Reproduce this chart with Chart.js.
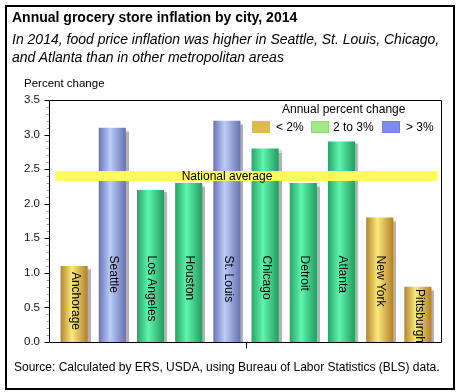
<!DOCTYPE html>
<html>
<head>
<meta charset="utf-8">
<script src="https://cdn.jsdelivr.net/npm/chart.js@4"></script>
<style>
  body { margin: 0; background: #fff; font-family: "Liberation Sans", Arial, sans-serif; }
  #wrap { position: relative; width: 459px; height: 392px; overflow: hidden; }
  #frame { position: absolute; left: 5px; top: 5px; width: 446px; height: 381px; border: 2px solid #000; }
  canvas { position: absolute; left: 0; top: 0; }
  .txt { position: absolute; white-space: nowrap; color: #000; }
  #title { left: 12px; top: 9px; font-size: 14px; font-weight: bold; }
  #subtitle { left: 12px; top: 30px; font-size: 14px; font-style: italic; line-height: 18px; }
  #ylabel { left: 24px; top: 77px; font-size: 11.5px; }
  #source { left: 14px; top: 360px; font-size: 12px; }
  #legTitle { left: 282px; top: 102px; font-size: 12px; }
  .sw { position: absolute; top: 121px; width: 18px; height: 12px; box-sizing: border-box; }
  .lg { position: absolute; top: 120px; font-size: 12px; }
</style>
</head>
<body>
<div id="wrap">
  <div id="frame"></div>
  <canvas id="inflationChart" width="459" height="392"></canvas>
  <div class="txt" id="title">Annual grocery store inflation by city, 2014</div>
  <div class="txt" id="subtitle">In 2014, food price inflation was higher in Seattle, St. Louis, Chicago,<br>and Atlanta than in other metropolitan areas</div>
  <div class="txt" id="ylabel">Percent change</div>
  <div class="txt" id="legTitle">Annual percent change</div>
  <div class="sw" style="left:252px; background:#dfb954;"></div>
  <div class="txt lg" style="left:276px;">&lt; 2%</div>
  <div class="sw" style="left:311px; background:#a3ea87; border:1px solid #8cd676;"></div>
  <div class="txt lg" style="left:333px;">2 to 3%</div>
  <div class="sw" style="left:382px; background:#7f8de8; border:1px solid #6c7ce0;"></div>
  <div class="txt lg" style="left:406px;">&gt; 3%</div>
  <div class="txt" id="source">Source: Calculated by ERS, USDA, using Bureau of Labor Statistics (BLS) data.</div>
</div>

<script>
// Data
const cities = ['Anchorage', 'Seattle', 'Los Angeles', 'Houston', 'St. Louis', 'Chicago', 'Detroit', 'Atlanta', 'New York', 'Pittsburgh'];
const inflation = [1.1, 3.1, 2.2, 2.3, 3.2, 2.8, 2.3, 2.9, 1.8, 0.8];
const nationalAverage = 2.4;
const yTicks = [0, 0.5, 1.0, 1.5, 2.0, 2.5, 3.0, 3.5];

// gradient stops for each color group (left edge, highlight, right edge)
const gold = ['#b6842c', '#f9ea7c', '#b27e2a'];
const green = ['#27a466', '#5ef6ae', '#259a5e'];
const blue = ['#6874b6', '#bccdf8', '#6670b0'];

function groupFor(v) {
    if (v < 2) return gold;
    if (v > 3) return blue;
    return green;
}

function barFill(context) {
    const chart = context.chart;
    const xs = chart.scales.x;
    const c = groupFor(inflation[context.dataIndex] || 0);
    if (!xs || context.dataIndex === undefined) return c[1];
    const cx = xs.getPixelForValue(context.dataIndex);
    const half = (xs.width / cities.length) * 0.71 / 2;
    if (!isFinite(cx) || !isFinite(half) || half <= 0) return c[1];
    const g = chart.ctx.createLinearGradient(cx - half, 0, cx + half, 0);
    g.addColorStop(0, c[0]);
    g.addColorStop(0.42, c[1]);
    g.addColorStop(1, c[2]);
    return g;
}

// extra drawing: axis frame, ticks, national average band, bar labels
const extras = {
    id: 'extras',
    beforeDatasetsDraw(chart) {
        const ctx = chart.ctx;
        ctx.save();
        ctx.shadowColor = 'rgba(0,0,0,0.3)';
        ctx.shadowOffsetX = 3;
        ctx.shadowOffsetY = 2;
        ctx.shadowBlur = 1;
    },
    afterDatasetsDraw(chart) {
        const ctx = chart.ctx;
        ctx.restore();
        const a = chart.chartArea;
        const y = chart.scales.y;
        const x = chart.scales.x;
        const L = a.left - 6 + 0.5;   // axis line sits a little left of the bars
        const R = a.right + 4 + 0.5;
        const T = a.top + 0.5;
        const B = a.bottom + 0.5;

        ctx.save();
        ctx.strokeStyle = '#000';
        ctx.lineWidth = 1;
        ctx.beginPath();
        ctx.moveTo(L, T);
        ctx.lineTo(R, T);
        ctx.lineTo(R, B);
        ctx.lineTo(L, B);
        ctx.closePath();
        ctx.stroke();

        // major ticks
        ctx.beginPath();
        yTicks.forEach(v => {
            const py = Math.round(y.getPixelForValue(v)) + 0.5;
            ctx.moveTo(L - 5, py);
            ctx.lineTo(L, py);
        });
        // center tick under x axis
        const mid = Math.round((L + R) / 2) + 0.5;
        ctx.moveTo(mid, B);
        ctx.lineTo(mid, B + 6);
        ctx.stroke();

        // minor ticks
        ctx.strokeStyle = '#999';
        ctx.beginPath();
        for (let i = 1; i < 35; i++) {
            if (i % 5 === 0) continue;
            const py = Math.round(y.getPixelForValue(i / 10)) + 0.5;
            ctx.moveTo(L - 3, py);
            ctx.lineTo(L - 0.5, py);
        }
        ctx.stroke();

        // national average band
        const by = y.getPixelForValue(nationalAverage);
        ctx.fillStyle = '#fffa5c';
        ctx.fillRect(a.left, by - 5, a.right - a.left, 10);
        ctx.fillStyle = '#000';
        ctx.font = '12px "Liberation Sans", Arial, sans-serif';
        ctx.textAlign = 'center';
        ctx.textBaseline = 'middle';
        ctx.fillText('National average', 227, by + 1);

        // rotated city labels inside bars
        ctx.textAlign = 'left';
        const start = y.getPixelForValue(1.25);
        cities.forEach((c, i) => {
            const cx = x.getPixelForValue(i);
            const top = y.getPixelForValue(inflation[i]);
            const w = ctx.measureText(c).width;
            let s = Math.max(start, top + 6);
            if (s + w > a.bottom + 1) s = a.bottom + 1 - w;
            ctx.save();
            ctx.translate(cx + 1, s);
            ctx.rotate(Math.PI / 2);
            ctx.fillText(c, 0, 0);
            ctx.restore();
        });
        ctx.restore();
    }
};

const ctxInflation = document.getElementById('inflationChart').getContext('2d');
const inflationChart = new Chart(ctxInflation, {
    type: 'bar',
    data: {
        labels: cities,
        datasets: [{
            data: inflation,
            backgroundColor: barFill,
            borderWidth: 0,
            barPercentage: 0.71,
            categoryPercentage: 1.0
        }]
    },
    options: {
        responsive: false,
        animation: false,
        layout: { padding: { top: 100, right: 22, bottom: 50, left: 0 } },
        plugins: {
            legend: { display: false },
            tooltip: { enabled: false }
        },
        scales: {
            x: {
                grid: { display: false },
                ticks: { display: false },
                border: { display: false },
                afterFit: (s) => { s.height = 0; }
            },
            y: {
                min: 0,
                max: 3.5,
                afterBuildTicks: (s) => { s.ticks = yTicks.map(v => ({ value: v })); },
                ticks: {
                    callback: (v) => Number(v).toFixed(1),
                    color: '#111',
                    font: { family: '"Liberation Sans", Arial, sans-serif', size: 11.5 },
                    padding: 15
                },
                grid: { display: false, drawTicks: false },
                border: { display: false },
                afterFit: (s) => { s.width = 55; }
            }
        }
    },
    plugins: [extras]
});
</script>
</body>
</html>
